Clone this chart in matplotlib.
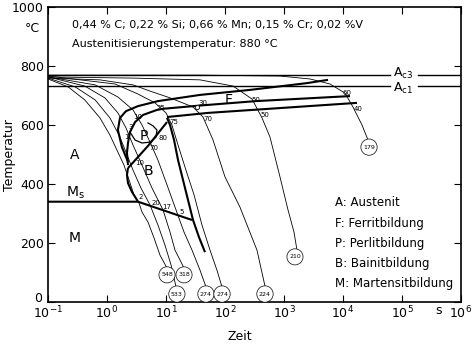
import matplotlib
matplotlib.use("Agg")
import matplotlib.pyplot as plt
import matplotlib.transforms as mtransforms
import numpy as np

plt.rcParams['font.family'] = ['DejaVu Sans']

# ---------------- data ----------------
AC3 = 771
AC1 = 732
MS = 340

# cooling curves: time [s], temperature [°C]
t_548 = [0.1, 0.22, 0.42, 0.76, 1.12, 1.53, 1.94, 2.36, 2.87, 3.48, 3.92, 4.95, 6.27, 7.9, 10.4]
T_548 = [756, 729, 685, 624, 566, 508, 464, 414, 363, 336, 305, 271, 217, 159, 115]
t_533 = [0.1, 0.29, 0.63, 1.12, 1.6, 2.1, 2.76, 3.77, 5.36, 7.3, 9.6, 12.2, 14.8]
T_533 = [759, 729, 685, 624, 566, 508, 447, 386, 329, 261, 193, 125, 51]
t_318 = [0.1, 0.42, 0.92, 1.53, 2.1, 2.76, 3.92, 5.8, 8.9, 11.7, 14.2, 17.3, 20.2]
T_318 = [763, 732, 692, 641, 590, 532, 464, 386, 312, 237, 176, 142, 115]
t_274a = [0.1, 0.63, 1.53, 2.76, 3.92, 5.36, 7.3, 10.4, 14.8, 20.2, 27.6, 37.7, 47.6]
T_274a = [763, 736, 695, 651, 600, 542, 481, 397, 312, 237, 176, 108, 51]
t_274b = [0.1, 1.37, 3.35, 6.5, 10, 12.6, 16, 21.8, 29.9, 40.7, 55.7, 73, 89]
T_274b = [766, 739, 705, 675, 641, 600, 532, 447, 363, 261, 176, 108, 51]
t_224 = [0.1, 0.76, 2.76, 5.36, 11.7, 28.7, 42.4, 62.7, 100, 179, 348, 476]
T_224 = [759, 753, 736, 715, 692, 661, 627, 549, 424, 322, 176, 54]
t_210 = [0.1, 2.76, 37.7, 137, 287, 424, 579, 855, 1170, 1476, 1660]
T_210 = [763, 759, 753, 732, 688, 624, 559, 424, 312, 237, 176]
t_179 = [0.1, 37.7, 855, 2761, 6026, 10815, 14757, 20990, 26550]
T_179 = [769, 769, 766, 756, 739, 708, 661, 600, 549]

# hardness labels (HV) at curve ends
hv_labels = ['548', '318', '533', '274', '274', '224', '210', '179']
hv_t = [10.4, 20.2, 15.3, 47.6, 89, 476, 1535, 27600]
hv_T = [92, 92, 27, 27, 27, 27, 153, 525]

# transformation boundaries
t_fstart = [2.27, 1.79, 1.53, 1.66, 2.1, 3.35, 7.3, 37.7, 265, 2455, 5570]
T_fstart = [475, 525, 583, 624, 647, 664, 681, 702, 719, 742, 753]
t_pstart = [2.27, 2.18, 2.27, 2.45, 2.99, 4.07, 7.0, 8.9, 37.7, 335, 13150]
T_pstart = [464, 505, 539, 576, 610, 634, 651, 655, 666, 681, 698]
t_pend = [10.4, 51.5, 476, 17260]
T_pend = [627, 641, 654, 675]
t_bend = [10.4, 11.7, 13.7, 16, 19.4, 23.6, 28.7, 36.2, 45.8]
T_bend = [624, 600, 549, 481, 414, 346, 278, 220, 169]
t_bdiag = [2.27, 4.95, 10.4]
T_bdiag = [454, 529, 610]
t_bleft = [2.27, 2.18, 2.27, 2.65, 3.22, 3.35]
T_bleft = [454, 431, 403, 373, 346, 339]
t_ms = [0.1, 3.35, 27.6]
T_ms = [MS, MS, 278]
t_pbub = [2.45, 2.99, 3.92, 5.36, 6.78, 7.03, 6.03, 4.95]
T_pbub = [576, 549, 539, 542, 559, 583, 597, 607]

# small percentage labels
pct_text = ['1', '3', '10', '25', '30', '50', '60', '75', '70', '50', '40', '70', '80', '10', '2', '20', '17', '5']
pct_t = [2.1, 2.55, 3.35, 8.2, 42.4, 335, 11700, 13.7, 51.5, 476, 17950, 6.27, 8.9, 3.62, 3.77, 6.78, 10.4, 18.7]
pct_T = [559, 593, 627, 658, 675, 685, 708, 610, 620, 634, 654, 522, 556, 471, 356, 336, 322, 305]

region_text = ['A', 'F', 'P', 'B', 'M']
region_t = [0.287, 117, 4.24, 4.95, 0.287]
region_T = [498, 685, 563, 444, 217]

legend_lines = ['A: Austenit', 'F: Ferritbildung', 'P: Perlitbildung', 'B: Bainitbildung', 'M: Martensitbildung']

xticks = [1e-1, 1e0, 1e1, 1e2, 1e3, 1e4, 1e5, 1e6]
xticklabels = [r'$\mathregular{10^{-1}}$', r'$\mathregular{10^{0}}$', r'$\mathregular{10^{1}}$',
               r'$\mathregular{10^{2}}$', r'$\mathregular{10^{3}}$', r'$\mathregular{10^{4}}$',
               r'$\mathregular{10^{5}}$', r'$\mathregular{10^{6}}$']
yticks = [0, 200, 400, 600, 800, 1000]

# ---------------- plot ----------------
fig = plt.figure(figsize=(4.72, 3.45), dpi=100)
ax = fig.add_axes([48 / 472, 43 / 345, 413 / 472, 295 / 345])
ax.set_xscale('log')
ax.set_xlim(1e-1, 1e6)
ax.set_ylim(0, 1000)

thin = dict(color='black', lw=0.6)
thick = dict(color='black', lw=1.5)

for t, T in [(t_548, T_548), (t_533, T_533), (t_318, T_318), (t_274a, T_274a),
             (t_274b, T_274b), (t_224, T_224), (t_210, T_210), (t_179, T_179)]:
    ax.plot(t, T, **thin)

for t, T in [(t_fstart, T_fstart), (t_pstart, T_pstart), (t_pend, T_pend),
             (t_bend, T_bend), (t_bdiag, T_bdiag), (t_bleft, T_bleft), (t_ms, T_ms)]:
    ax.plot(t, T, solid_capstyle='butt', **thick)
ax.plot(t_pbub, T_pbub, color='black', lw=0.9)
ax.plot([33.5], [661], marker='o', ms=3, mfc='white', mec='black', mew=0.6)

# Ac lines with gap for labels
for T in (AC3, AC1):
    ax.plot([1e-1, 6.3e4], [T, T], color='black', lw=1.0)
    ax.plot([1.87e5, 1e6], [T, T], color='black', lw=1.0)
ax.text(1.05e5, AC3 + 4, r'$\mathregular{A_{c3}}$', fontsize=9, ha='center', va='center')
ax.text(1.05e5, AC1 - 8, r'$\mathregular{A_{c1}}$', fontsize=9, ha='center', va='center')

for s, t, T in zip(hv_labels, hv_t, hv_T):
    ax.text(t, T, s, fontsize=4.5, ha='center', va='center',
            bbox=dict(boxstyle='circle,pad=0.35', fc='white', ec='black', lw=0.5))

for s, t, T in zip(pct_text, pct_t, pct_T):
    ax.text(t, T, s, fontsize=5, ha='center', va='center')

for s, t, T in zip(region_text, region_t, region_T):
    ax.text(t, T, s, fontsize=10, ha='center', va='center')
ax.text(0.287, 370, r'$\mathregular{M_s}$', fontsize=10, ha='center', va='center')

for i, s in enumerate(legend_lines):
    fig.text(335 / 472, 1 - (203 + i * 20) / 345, s, fontsize=8.5, ha='left', va='center')

fig.text(72 / 472, 1 - 25 / 345, '0,44 % C; 0,22 % Si; 0,66 % Mn; 0,15 % Cr; 0,02 %V',
         fontsize=8, ha='left', va='center')
fig.text(72 / 472, 1 - 44 / 345, 'Austenitisierungstemperatur: 880 °C',
         fontsize=8, ha='left', va='center')

ax.set_xticks(xticks)
ax.set_xticklabels(xticklabels)
ax.xaxis.set_minor_locator(matplotlib.ticker.NullLocator())
ax.set_yticks(yticks)
ax.tick_params(direction='in', length=5, width=0.8, top=True, right=True, labelsize=9)
ax.tick_params(axis='x', pad=2)
ax.tick_params(axis='y', pad=3)
for sp in ax.spines.values():
    sp.set_linewidth(1.2)

# lift the "0" label a little so it does not touch the 10^-1 label
lbl0 = ax.get_yticklabels()[0]
lbl0.set_transform(lbl0.get_transform() + mtransforms.ScaledTranslation(-2 / 100, 5 / 100, fig.dpi_scale_trans))

fig.text(40 / 472, 1 - 29 / 345, '°C', fontsize=9, ha='right', va='center')
fig.text(439 / 472, 1 - 311 / 345, 's', fontsize=9, ha='center', va='center')
fig.text(10 / 472, 1 - 155 / 345, 'Temperatur', fontsize=9, rotation=90, ha='center', va='center')
fig.text(240 / 472, 1 - 337 / 345, 'Zeit', fontsize=9, ha='center', va='center')

fig.savefig('out.png', dpi=100)
